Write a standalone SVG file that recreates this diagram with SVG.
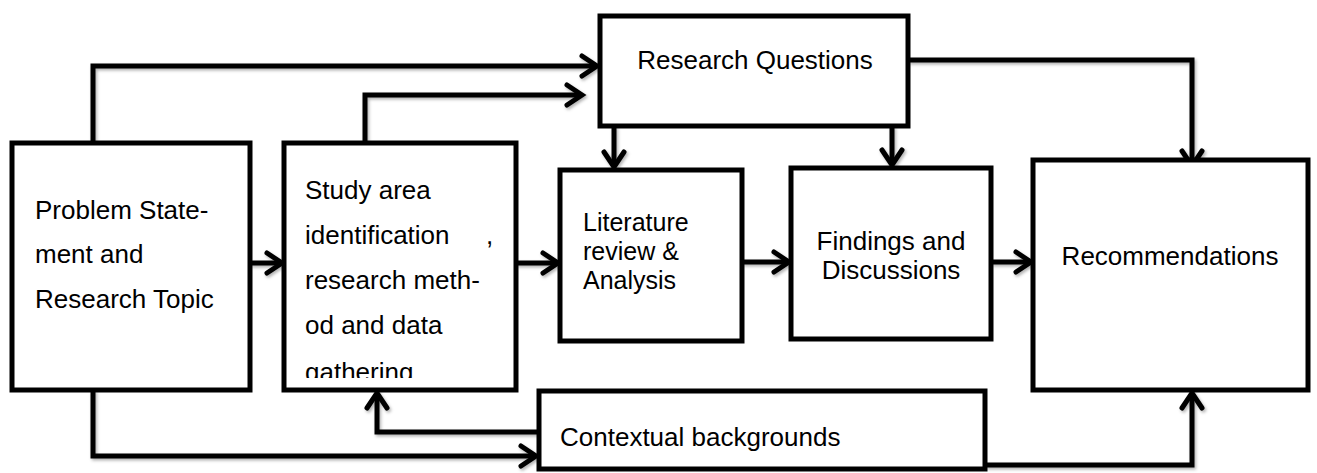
<svg xmlns="http://www.w3.org/2000/svg" width="1317" height="473" viewBox="0 0 1317 473">
  <style>
    .box { fill: #ffffff; stroke: #000000; stroke-width: 5; }
    .link { fill: none; stroke: #000000; stroke-width: 5; stroke-linejoin: miter; marker-end: url(#chev); }
    .lbl { font-family: "Liberation Sans", Arial, sans-serif; font-size: 26px; fill: #000000; }
    .tight { font-size: 25px; }
    .mid { text-anchor: middle; }
  </style>
  <defs>
    <marker id="chev" markerUnits="userSpaceOnUse" markerWidth="40" markerHeight="40" viewBox="-20 -20 40 40" refX="0" refY="0" orient="auto" overflow="visible">
      <path d="M-15,-10 L0,0 L-15,10" fill="none" stroke="#000000" stroke-width="5" stroke-linecap="round" stroke-linejoin="miter"/>
    </marker>
    <filter id="soft" x="-5%" y="-5%" width="110%" height="130%">
      <feDropShadow dx="1.5" dy="2" stdDeviation="1.5" flood-color="#000000" flood-opacity="0.3"/>
    </filter>
    <clipPath id="studyClip">
      <rect x="286" y="146" width="228" height="232"/>
    </clipPath>
  </defs>

  <!-- connectors -->
  <g id="connectors" filter="url(#soft)">
    <path class="link" d="M93,143 V66 H597"/>
    <path class="link" d="M365,143 V95 H582"/>
    <path class="link" d="M614,126 V167"/>
    <path class="link" d="M892,126 V165"/>
    <path class="link" d="M908,60 H1192 V166"/>
    <path class="link" d="M250,263 H282"/>
    <path class="link" d="M516,263 H558"/>
    <path class="link" d="M742,262 H789"/>
    <path class="link" d="M991,262 H1031"/>
    <path class="link" d="M93,390 V456 H536"/>
    <path class="link" d="M539,432 H377 V393"/>
    <path class="link" d="M985,465 H1192 V393"/>
  </g>

  <g id="problem">
    <rect class="box" x="12" y="143" width="238" height="247"/>
    <text class="lbl" x="35" y="219">Problem State-</text>
    <text class="lbl" x="35" y="263">ment and</text>
    <text class="lbl" x="35" y="308">Research Topic</text>
  </g>

  <g id="study">
    <rect class="box" x="284" y="143" width="232" height="247"/>
    <g clip-path="url(#studyClip)">
      <text class="lbl" x="305" y="199">Study area</text>
      <text class="lbl" x="305" y="244">identification<tspan x="486">,</tspan></text>
      <text class="lbl" x="305" y="289">research meth-</text>
      <text class="lbl" x="305" y="334">od and data</text>
      <text class="lbl" x="305" y="381">gathering</text>
    </g>
  </g>

  <g id="questions">
    <rect class="box" x="600" y="16" width="308" height="110"/>
    <text class="lbl mid" x="755" y="69">Research Questions</text>
  </g>

  <g id="literature">
    <rect class="box" x="560" y="170" width="182" height="171"/>
    <text class="lbl tight" x="583" y="231">Literature</text>
    <text class="lbl tight" x="583" y="260">review &amp;</text>
    <text class="lbl tight" x="583" y="289">Analysis</text>
  </g>

  <g id="findings">
    <rect class="box" x="791" y="168" width="200" height="171"/>
    <text class="lbl mid" x="891" y="250">Findings and</text>
    <text class="lbl mid" x="891" y="279">Discussions</text>
  </g>

  <g id="recommendations">
    <rect class="box" x="1033" y="160" width="275" height="230"/>
    <text class="lbl mid" x="1170" y="265">Recommendations</text>
  </g>

  <g id="contextual">
    <rect class="box" x="539" y="391" width="446" height="78"/>
    <text class="lbl" x="560" y="446">Contextual backgrounds</text>
  </g>
</svg>
